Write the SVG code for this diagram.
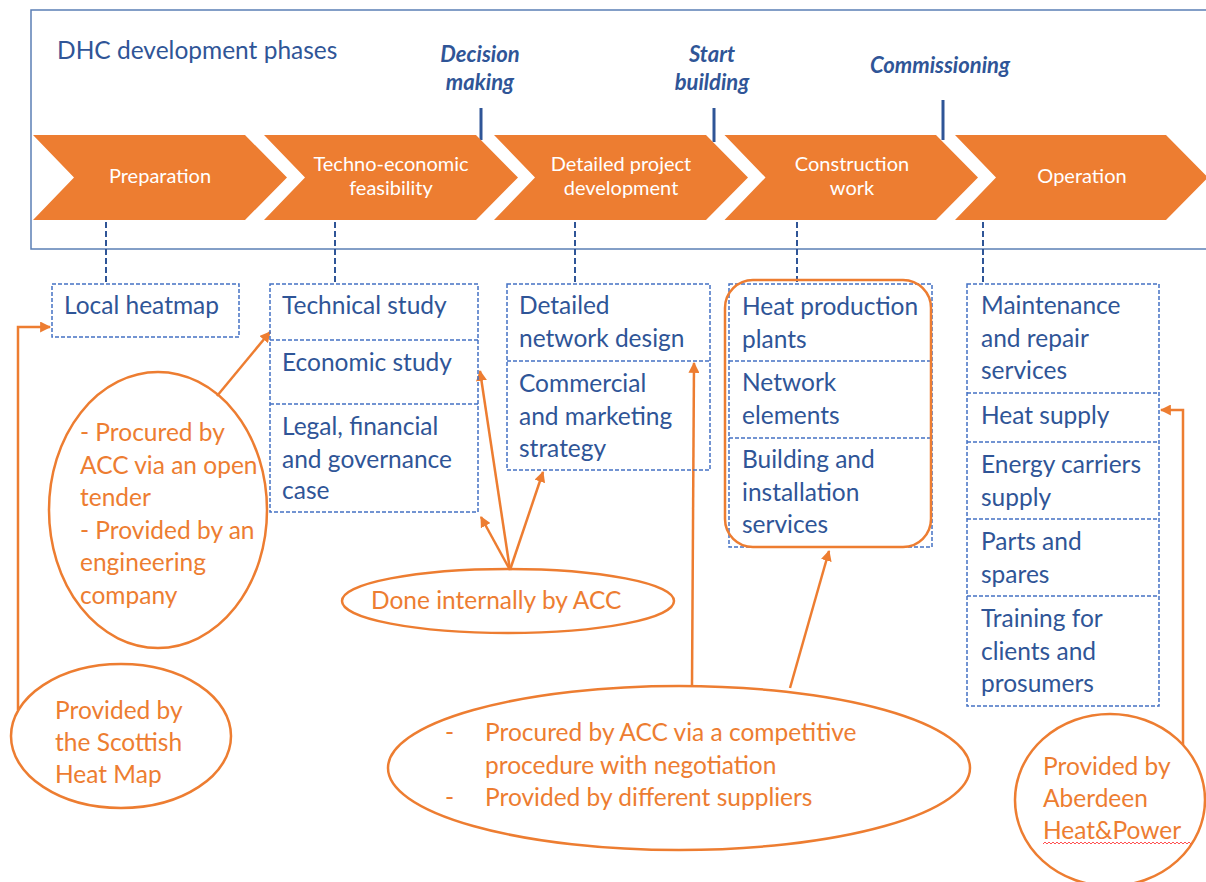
<svg xmlns="http://www.w3.org/2000/svg" width="1206" height="882" viewBox="0 0 1206 882">
<style>
.bg{fill:#ffffff}
.frame{fill:none;stroke:#5b7fb5;stroke-width:1.5}
.title{font-family:Lato,"Liberation Sans",sans-serif;font-size:24.5px;fill:#2f5597}
.ms{font-family:Lato,"Liberation Sans",sans-serif;font-size:22px;font-weight:bold;font-style:italic;fill:#2f5597;text-anchor:middle}
.tick{stroke:#2f5597;stroke-width:3}
.chev{fill:#ed7d31}
.ct{font-family:Lato,"Liberation Sans",sans-serif;font-size:20px;fill:#ffffff;text-anchor:middle}
.vd{stroke:#2f5597;stroke-width:2;stroke-dasharray:6 3;fill:none}
.box{fill:none;stroke:#4472c4;stroke-width:1.5;stroke-dasharray:4 2}
.bt{font-family:Lato,"Liberation Sans",sans-serif;font-size:24.5px;fill:#2f5597}
.oe{fill:none;stroke:#ed7d31;stroke-width:2.5}
.ot{font-family:Lato,"Liberation Sans",sans-serif;font-size:24.5px;fill:#ed7d31}
.arr{fill:none;stroke:#ed7d31;stroke-width:2.5;marker-end:url(#ah)}
</style>
<defs>
<marker id="ah" viewBox="0 0 10 10" refX="9" refY="5" markerWidth="11" markerHeight="11" markerUnits="userSpaceOnUse" orient="auto">
<path d="M0,0 L10,5 L0,10 z" fill="#ed7d31"/>
</marker>
</defs>
<rect class="bg" x="0" y="0" width="1206" height="882"/>

<g id="frame">
<rect class="frame" x="31" y="10" width="1200" height="239"/>
<text class="title" x="57" y="59">DHC development phases</text>
</g>

<g id="milestones">
<text class="ms" x="480" y="62">Decision</text>
<text class="ms" x="480" y="90">making</text>
<line class="tick" x1="481" y1="108" x2="481" y2="140"/>
<text class="ms" x="712" y="62">Start</text>
<text class="ms" x="712" y="90">building</text>
<line class="tick" x1="714" y1="108" x2="714" y2="142"/>
<text class="ms" x="940" y="73">Commissioning</text>
<line class="tick" x1="943" y1="100" x2="943" y2="140"/>
</g>

<g id="phase-preparation">
<polygon class="chev" points="33,135 245,135 287,177.5 245,220 33,220 74,177.5"/>
<text class="ct" x="160" y="183">Preparation</text>
</g>
<g id="phase-techno">
<polygon class="chev" points="264,135 476,135 518,177.5 476,220 264,220 305,177.5"/>
<text class="ct" x="391" y="171">Techno-economic</text>
<text class="ct" x="391" y="195">feasibility</text>
</g>
<g id="phase-detailed">
<polygon class="chev" points="494,135 706,135 748,177.5 706,220 494,220 535,177.5"/>
<text class="ct" x="621" y="171">Detailed project</text>
<text class="ct" x="621" y="195">development</text>
</g>
<g id="phase-construction">
<polygon class="chev" points="724.5,135 936,135 978,177.5 936,220 724.5,220 765.5,177.5"/>
<text class="ct" x="852" y="171">Construction</text>
<text class="ct" x="852" y="195">work</text>
</g>
<g id="phase-operation">
<polygon class="chev" points="955,135 1166,135 1208,177.5 1166,220 955,220 996,177.5"/>
<text class="ct" x="1082" y="183">Operation</text>
</g>

<g id="connectors">
<line class="vd" x1="106" y1="222" x2="106" y2="284"/>
<line class="vd" x1="335" y1="222" x2="335" y2="284"/>
<line class="vd" x1="575" y1="222" x2="575" y2="284"/>
<line class="vd" x1="797" y1="222" x2="797" y2="282"/>
<line class="vd" x1="983" y1="222" x2="983" y2="284"/>
<polyline class="arr" points="18,710 18,327 50,327"/>
<line class="arr" x1="217" y1="396" x2="270" y2="332"/>
<line class="arr" x1="510" y1="570" x2="480" y2="371"/>
<line class="arr" x1="510" y1="570" x2="481" y2="517"/>
<line class="arr" x1="510" y1="570" x2="543" y2="472"/>
<line class="arr" x1="692" y1="686" x2="694" y2="363"/>
<line class="arr" x1="790" y1="688" x2="829" y2="551"/>
<polyline class="arr" points="1183,745 1183,410 1161,410"/>
</g>

<g id="box-heatmap">
<rect class="box" x="52" y="284" width="187" height="53"/>
<text class="bt" x="64" y="314">Local heatmap</text>
</g>

<g id="box-techno">
<rect class="box" x="270" y="284" width="208" height="228"/>
<line class="box" x1="270" y1="340" x2="478" y2="340"/>
<line class="box" x1="270" y1="404" x2="478" y2="404"/>
<text class="bt" x="282" y="314">Technical study</text>
<text class="bt" x="282" y="371">Economic study</text>
<text class="bt" x="282" y="435">Legal, financial</text>
<text class="bt" x="282" y="468">and governance</text>
<text class="bt" x="282" y="499">case</text>
</g>

<g id="box-detailed">
<rect class="box" x="507" y="284" width="203" height="186"/>
<line class="box" x1="507" y1="361" x2="710" y2="361"/>
<text class="bt" x="519" y="314">Detailed</text>
<text class="bt" x="519" y="347">network design</text>
<text class="bt" x="519" y="392">Commercial</text>
<text class="bt" x="519" y="425">and marketing</text>
<text class="bt" x="519" y="457">strategy</text>
</g>

<g id="box-construction">
<rect class="box" x="729" y="284" width="203" height="263"/>
<line class="box" x1="729" y1="361" x2="932" y2="361"/>
<line class="box" x1="729" y1="438" x2="932" y2="438"/>
<rect class="oe" x="725" y="280" width="206" height="267" rx="28"/>
<text class="bt" x="742" y="315">Heat production</text>
<text class="bt" x="742" y="348">plants</text>
<text class="bt" x="742" y="391">Network</text>
<text class="bt" x="742" y="424">elements</text>
<text class="bt" x="742" y="468">Building and</text>
<text class="bt" x="742" y="501">installation</text>
<text class="bt" x="742" y="533">services</text>
</g>

<g id="box-operation">
<rect class="box" x="967" y="284" width="192" height="422"/>
<line class="box" x1="967" y1="393" x2="1159" y2="393"/>
<line class="box" x1="967" y1="442" x2="1159" y2="442"/>
<line class="box" x1="967" y1="519" x2="1159" y2="519"/>
<line class="box" x1="967" y1="596" x2="1159" y2="596"/>
<text class="bt" x="981" y="314">Maintenance</text>
<text class="bt" x="981" y="347">and repair</text>
<text class="bt" x="981" y="379">services</text>
<text class="bt" x="981" y="424">Heat supply</text>
<text class="bt" x="981" y="473">Energy carriers</text>
<text class="bt" x="981" y="506">supply</text>
<text class="bt" x="981" y="550">Parts and</text>
<text class="bt" x="981" y="583">spares</text>
<text class="bt" x="981" y="627">Training for</text>
<text class="bt" x="981" y="660">clients and</text>
<text class="bt" x="981" y="692">prosumers</text>
</g>

<g id="note-engineering">
<ellipse class="oe" cx="158" cy="510" rx="109" ry="138"/>
<text class="ot" x="80" y="441">- Procured by</text>
<text class="ot" x="80" y="474">ACC via an open</text>
<text class="ot" x="80" y="506">tender</text>
<text class="ot" x="80" y="539">- Provided by an</text>
<text class="ot" x="80" y="571">engineering</text>
<text class="ot" x="80" y="604">company</text>
</g>

<g id="note-scottish">
<ellipse class="oe" cx="121" cy="736" rx="110" ry="72"/>
<text class="ot" x="55" y="719">Provided by</text>
<text class="ot" x="55" y="751">the Scottish</text>
<text class="ot" x="55" y="783">Heat Map</text>
</g>

<g id="note-internal">
<ellipse class="oe" cx="508" cy="601" rx="166" ry="32"/>
<text class="ot" x="371" y="609">Done internally by ACC</text>
</g>

<g id="note-competitive">
<ellipse class="oe" cx="679" cy="768" rx="291" ry="82"/>
<text class="ot" x="445" y="741">-</text>
<text class="ot" x="485" y="741">Procured by ACC via a competitive</text>
<text class="ot" x="485" y="774">procedure with negotiation</text>
<text class="ot" x="445" y="806">-</text>
<text class="ot" x="485" y="806">Provided by different suppliers</text>
</g>

<g id="note-aberdeen">
<ellipse class="oe" cx="1110" cy="800" rx="95" ry="86"/>
<text class="ot" x="1043" y="775">Provided by</text>
<text class="ot" x="1043" y="807">Aberdeen</text>
<text class="ot" x="1043" y="839">Heat&amp;Power</text>
<path d="M1043,844 l2,-2 l2,2 l2,-2 l2,2 l2,-2 l2,2 l2,-2 l2,2 l2,-2 l2,2 l2,-2 l2,2 l2,-2 l2,2 l2,-2 l2,2 l2,-2 l2,2 l2,-2 l2,2 l2,-2 l2,2 l2,-2 l2,2 l2,-2 l2,2 l2,-2 l2,2 l2,-2 l2,2 l2,-2 l2,2 l2,-2 l2,2 l2,-2 l2,2 l2,-2 l2,2 l2,-2 l2,2 l2,-2 l2,2 l2,-2 l2,2 l2,-2 l2,2 l2,-2 l2,2 l2,-2 l2,2 l2,-2 l2,2 l2,-2 l2,2 l2,-2 l2,2 l2,-2 l2,2 l2,-2 l2,2 l2,-2 l2,2 l2,-2 l2,2 l2,-2 l2,2 l2,-2 l2,2 l2,-2 l2,2 l2,-2 l2,2 l2,-2 l2,2" fill="none" stroke="#ff5050" stroke-width="1"/>
</g>
</svg>
